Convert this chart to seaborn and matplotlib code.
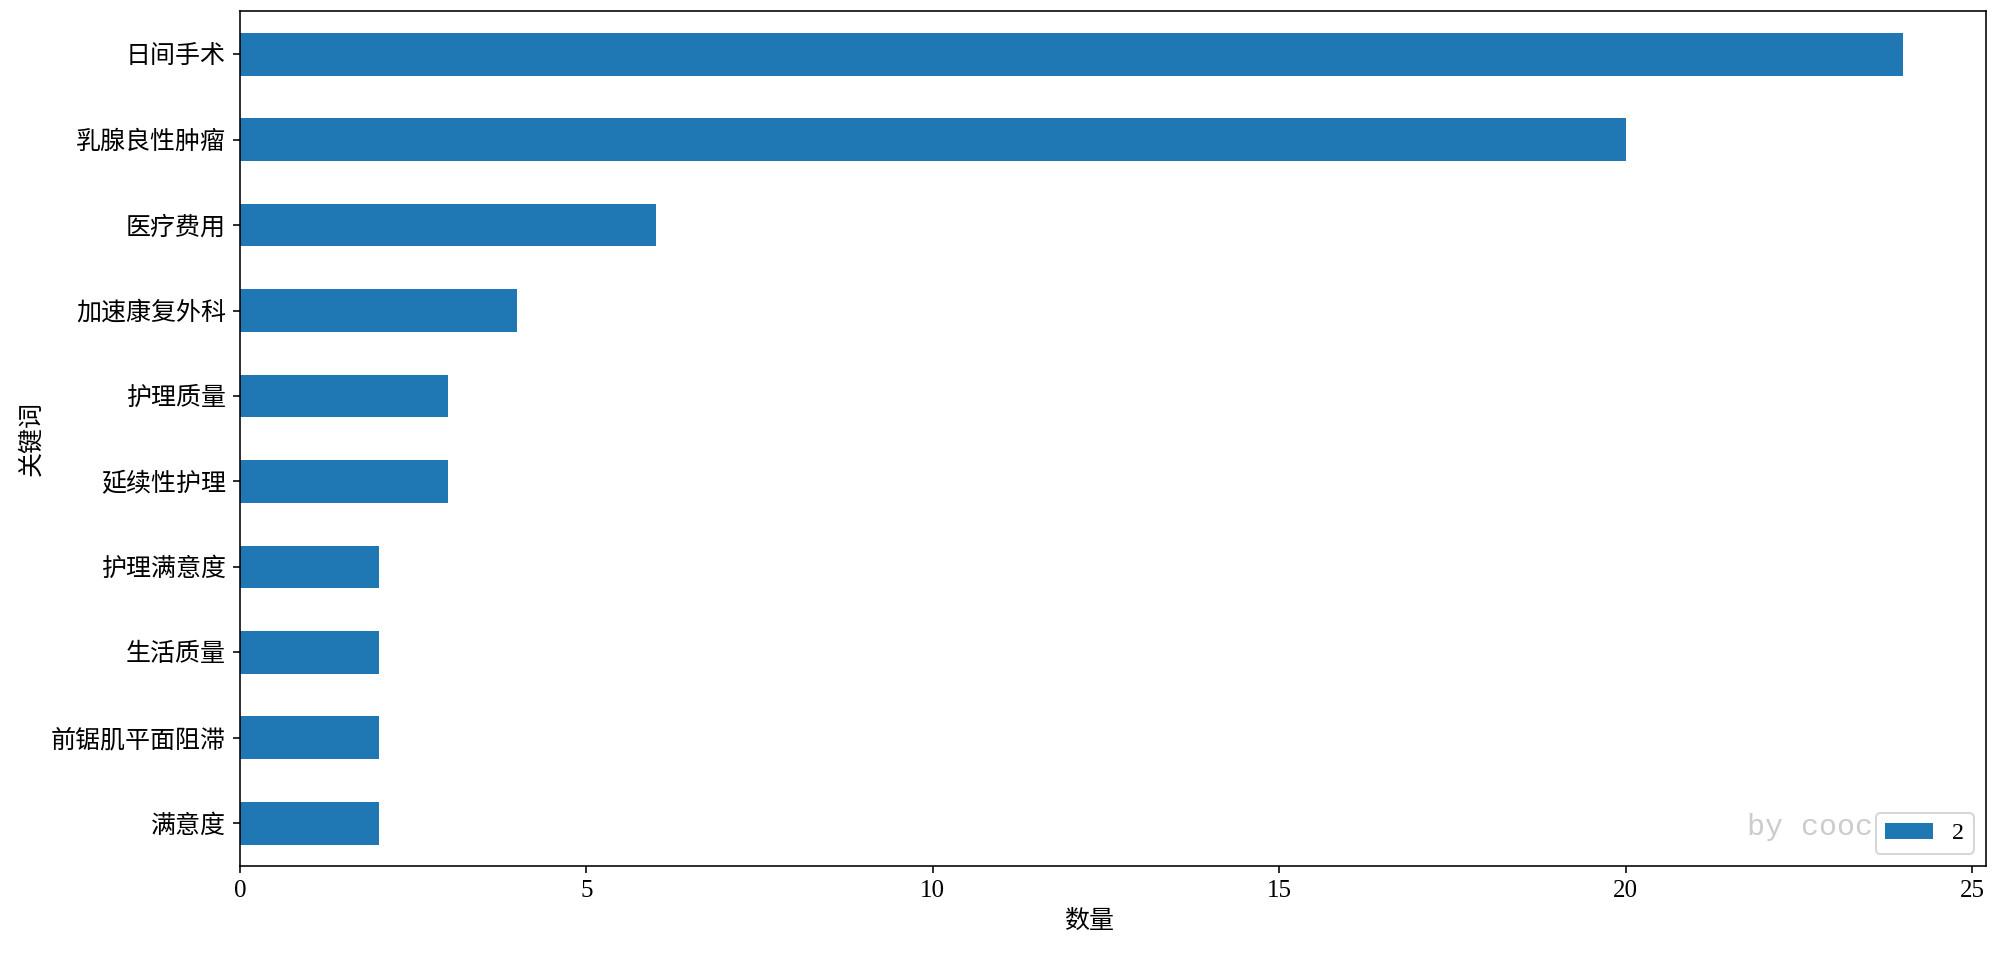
import matplotlib
matplotlib.use("Agg")
import matplotlib.pyplot as plt
import seaborn as sns
import pandas as pd

keywords = ["日间手术", "乳腺良性肿瘤", "医疗费用", "加速康复外科", "护理质量",
            "延续性护理", "护理满意度", "生活质量", "前锯肌平面阻滞", "满意度"]
counts = [24, 20, 6, 4, 3, 3, 2, 2, 2, 2]
series_label = "2"

plt.rcParams['font.family'] = ['Liberation Serif', 'Noto Sans CJK SC', 'DejaVu Sans']
plt.rcParams['font.size'] = 12

df = pd.DataFrame({"关键词": keywords, "数量": counts})

fig = plt.figure(figsize=(2000 / 144, 953 / 144), dpi=144)
ax = fig.add_axes([0.12, 0.0913, 0.873, 0.8967])
sns.barplot(data=df, x="数量", y="关键词", orient="h", color="#1f77b4",
            saturation=1, width=0.5, label=series_label, ax=ax)
ax.set_xlim(0, max(counts) * 1.05)
ax.set_ylim(len(keywords) - 0.5, -0.5)
ax.set_xticks([0, 5, 10, 15, 20, 25])
ax.tick_params(labelsize=12.5)
ax.set_xlabel("数量", fontsize=12.5, x=0.486)
ax.set_ylabel("关键词", fontsize=12.5, labelpad=4)
for s in ax.spines.values():
    s.set_visible(True)
    s.set_color("black")
ax.text(0.863, 0.036, "by cooc", transform=ax.transAxes, fontsize=15,
        family=['Liberation Mono', 'DejaVu Sans Mono'], color="#cccccc", zorder=1)
leg = ax.legend(loc="lower right", fontsize=12)
leg.set_zorder(10)
fig.savefig("out.png", dpi=144)
